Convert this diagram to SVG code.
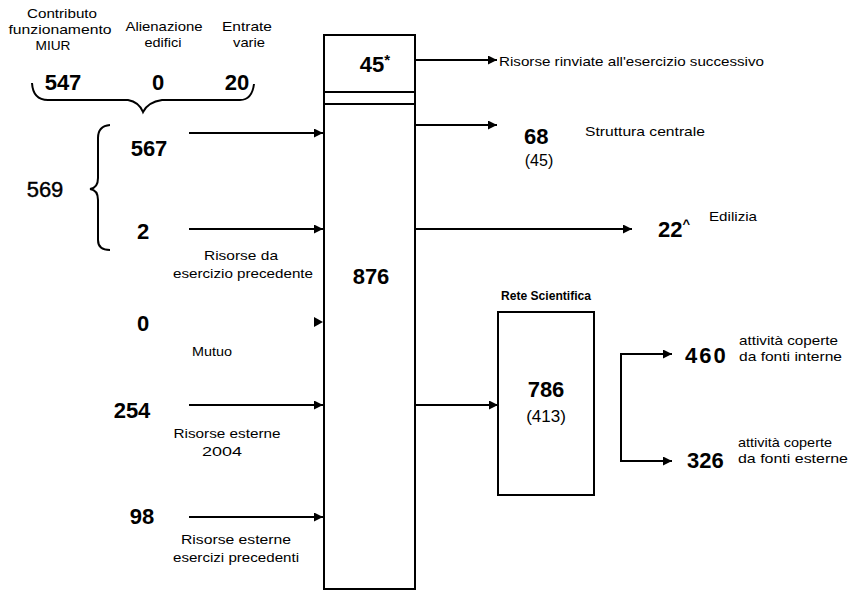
<svg xmlns="http://www.w3.org/2000/svg" width="851" height="591" viewBox="0 0 851 591">
<defs>
<style>
text{font-family:"Liberation Sans",Arial,sans-serif;fill:#000}
.num{font-weight:bold;font-size:22px}
.lbl{font-size:13px}
.mid{text-anchor:middle}
.ln{stroke:#000;stroke-width:2;fill:none}
.box{fill:#fff;stroke:#000;stroke-width:2}
</style>
<marker id="ah" viewBox="0 0 10 10" refX="10" refY="5" markerWidth="10" markerHeight="9" markerUnits="userSpaceOnUse" orient="auto">
<path d="M0,0 L10,5 L0,10 z" fill="#000"/>
</marker>
</defs>
<rect width="851" height="591" fill="#fff"/>

<g id="column">
<rect class="box" x="324" y="35" width="91" height="554"/>
<line class="ln" x1="324" y1="92" x2="415" y2="92"/>
<line class="ln" x1="324" y1="104" x2="415" y2="104"/>
<text class="num mid" x="375" y="72">45<tspan font-size="15" dy="-7">*</tspan></text>
<text class="num mid" x="371" y="284">876</text>
</g>

<g id="sources-top">
<text class="lbl mid" x="62" y="18" textLength="70" lengthAdjust="spacingAndGlyphs">Contributo</text>
<text class="lbl mid" x="60" y="34" textLength="103" lengthAdjust="spacingAndGlyphs">funzionamento</text>
<text class="lbl mid" x="53" y="50" textLength="35" lengthAdjust="spacingAndGlyphs">MIUR</text>
<text class="lbl mid" x="164" y="31" textLength="77" lengthAdjust="spacingAndGlyphs">Alienazione</text>
<text class="lbl mid" x="163" y="47" textLength="37" lengthAdjust="spacingAndGlyphs">edifici</text>
<text class="lbl mid" x="247" y="31" textLength="50" lengthAdjust="spacingAndGlyphs">Entrate</text>
<text class="lbl mid" x="249" y="47" textLength="32" lengthAdjust="spacingAndGlyphs">varie</text>
<text class="num mid" x="63" y="90">547</text>
<text class="num mid" x="158" y="90">0</text>
<text class="num mid" x="237" y="90">20</text>
<path class="ln" stroke-width="1.5" d="M32,83 Q33,100 48,100 H128 Q139,102 143,112 Q148,102 162,100 H240 Q252,100 254,84"/>
</g>

<g id="n569">
<text class="mid" x="45" y="197" font-size="22" stroke="#000" stroke-width="0.4">569</text>
<path class="ln" stroke-width="1.5" d="M110,125 Q98,126 98,138 V178 Q98,188 90,189 Q98,190 98,200 V240 Q98,250 110,250"/>
</g>

<g id="n567"><text class="num mid" x="149" y="156">567</text></g>
<g id="n2">
<text class="num mid" x="143" y="239">2</text>
<text class="lbl mid" x="241" y="260" textLength="74" lengthAdjust="spacingAndGlyphs">Risorse da</text>
<text class="lbl mid" x="243" y="278" textLength="140" lengthAdjust="spacingAndGlyphs">esercizio precedente</text>
</g>
<g id="n0">
<text class="num mid" x="143" y="331">0</text>
<text class="lbl mid" x="212" y="356" textLength="40" lengthAdjust="spacingAndGlyphs">Mutuo</text>
</g>
<g id="n254">
<text class="num mid" x="132" y="418">254</text>
<text class="lbl mid" x="227" y="438" textLength="107" lengthAdjust="spacingAndGlyphs">Risorse esterne</text>
<text class="lbl mid" x="222" y="456" textLength="40" lengthAdjust="spacingAndGlyphs">2004</text>
</g>
<g id="n98">
<text class="num mid" x="142" y="524">98</text>
<text class="lbl mid" x="236" y="544" textLength="110" lengthAdjust="spacingAndGlyphs">Risorse esterne</text>
<text class="lbl mid" x="236" y="562" textLength="126" lengthAdjust="spacingAndGlyphs">esercizi precedenti</text>
</g>

<g id="out-successivo">
<text class="lbl" x="499" y="66" textLength="265" lengthAdjust="spacingAndGlyphs">Risorse rinviate all'esercizio successivo</text>
</g>
<g id="out-centrale">
<text class="num" x="524" y="144">68</text>
<text class="lbl" x="585" y="136" textLength="120" lengthAdjust="spacingAndGlyphs">Struttura centrale</text>
<text class="mid" x="539" y="166" font-size="16">(45)</text>
</g>
<g id="out-edilizia">
<text class="num" x="658" y="237">22<tspan font-size="13" dy="-9">^</tspan></text>
<text class="lbl" x="709" y="221" textLength="48" lengthAdjust="spacingAndGlyphs">Edilizia</text>
</g>

<g id="rete">
<text class="mid" x="546" y="300" font-size="12" font-weight="bold" textLength="90" lengthAdjust="spacingAndGlyphs">Rete Scientifica</text>
<rect class="box" x="498" y="312" width="96" height="183"/>
<text class="num mid" x="546" y="397">786</text>
<text class="mid" x="546" y="422" font-size="17">(413)</text>
</g>
<g id="n460">
<text class="num" x="685" y="363" letter-spacing="2">460</text>
<text class="lbl" x="739" y="345" textLength="99" lengthAdjust="spacingAndGlyphs">attività coperte</text>
<text class="lbl" x="739" y="361" textLength="103" lengthAdjust="spacingAndGlyphs">da fonti interne</text>
</g>
<g id="n326">
<text class="num" x="687" y="468">326</text>
<text class="lbl" x="738" y="447" textLength="94" lengthAdjust="spacingAndGlyphs">attività coperte</text>
<text class="lbl" x="738" y="463" textLength="110" lengthAdjust="spacingAndGlyphs">da fonti esterne</text>
</g>

<g id="connectors">
<line class="ln" x1="415" y1="60" x2="497" y2="60" marker-end="url(#ah)"/>
<line class="ln" x1="415" y1="125" x2="497" y2="125" marker-end="url(#ah)"/>
<line class="ln" x1="415" y1="229" x2="632" y2="229" marker-end="url(#ah)"/>
<line class="ln" x1="415" y1="405" x2="498" y2="405" marker-end="url(#ah)"/>
<line class="ln" x1="189" y1="133" x2="323" y2="133" marker-end="url(#ah)"/>
<line class="ln" x1="189" y1="229" x2="323" y2="229" marker-end="url(#ah)"/>
<path d="M314,317 L323,322 L314,327 z" fill="#000"/>
<line class="ln" x1="189" y1="405" x2="323" y2="405" marker-end="url(#ah)"/>
<line class="ln" x1="189" y1="517" x2="323" y2="517" marker-end="url(#ah)"/>
<path class="ln" d="M621,408 V354 H672" marker-end="url(#ah)"/>
<path class="ln" d="M621,408 V461 H672" marker-end="url(#ah)"/>
</g>
</svg>
